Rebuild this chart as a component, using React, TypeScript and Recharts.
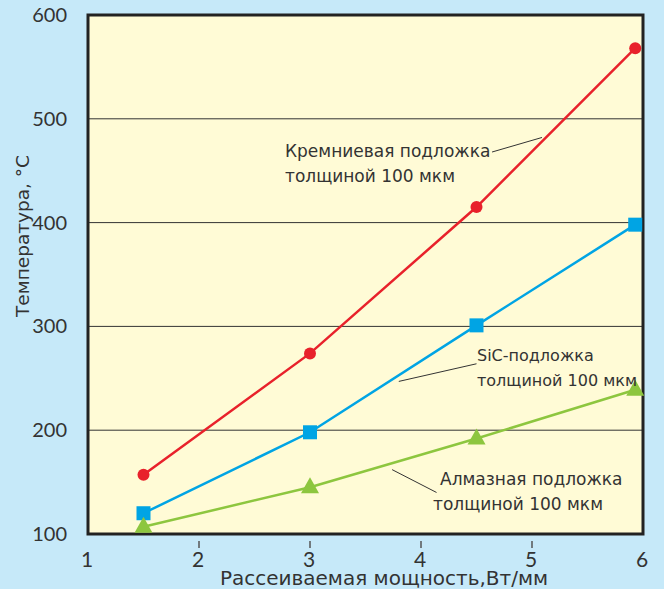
import React from 'react';
import { LineChart, Line, XAxis, YAxis, CartesianGrid, ReferenceArea, ReferenceLine } from 'recharts';

const xValues = [1.5, 3, 4.5, 5.93];
const siValues = [157, 274, 415, 568];
const sicValues = [120, 198, 301, 398];
const diamondValues = [107, 145, 192, 239];
const xTicks = [1, 2, 3, 4, 5, 6];
const yTicks = [100, 200, 300, 400, 500, 600];

const data = xValues.map((x, i) => ({ x, si: siValues[i], sic: sicValues[i], dia: diamondValues[i] }));

const RED = '#e8212b';
const BLUE = '#00a4e4';
const GREEN = '#8dc63f';
const FONT = '"DejaVu Sans", sans-serif';
const NUMFONT = 'Lato, sans-serif';
const TXT = '#333';

const annotations = [
  { lines: ['Кремниевая подложка', 'толщиной 100 мкм'], x: 285, x2: 285, y: 157, size: 17, lead: [4.64, 468, 5.09, 482] },
  { lines: ['SiC-подложка', 'толщиной 100 мкм'], x: 477, x2: 477, y: 361, size: 16, lead: [3.8, 247, 4.5, 264] },
  { lines: ['Алмазная подложка', 'толщиной 100 мкм'], x: 440, x2: 433, y: 485, size: 17, lead: [3.74, 162, 4.14, 140] },
];

const Square = (props: any) => {
  const { cx, cy } = props;
  if (cx == null || cy == null) return null;
  return <rect x={cx - 7} y={cy - 7} width={14} height={14} fill={BLUE} />;
};
const Triangle = (props: any) => {
  const { cx, cy } = props;
  if (cx == null || cy == null) return null;
  return <polygon points={`${cx},${cy - 10} ${cx + 9},${cy + 6} ${cx - 9},${cy + 6}`} fill={GREEN} />;
};

const XTick = (props: any) => {
  const { x, y, payload } = props;
  const v = payload.value;
  return (
    <g>
      {v > 1 && v < 6 && <line x1={x} x2={x} y1={y - 1} y2={y + 6} stroke="#555" strokeWidth={1.5} />}
      <text x={x - 1} y={y + 25} textAnchor="middle" fill={TXT} fontSize={21} fontFamily={NUMFONT}>{v}</text>
    </g>
  );
};
const YTick = (props: any) => {
  const { x, y, payload } = props;
  return (
    <text x={x - 13} y={y + 7} textAnchor="end" fill={TXT} fontSize={20} fontFamily={NUMFONT}>{payload.value}</text>
  );
};

export default function App() {
  return (
    <div style={{ position: 'absolute', left: 0, top: 0, width: 664, height: 589, background: '#c6e9f9' }}>
      <LineChart width={664} height={589} data={data} margin={{ top: 15, right: 21, left: 0, bottom: 0 }}>
        <CartesianGrid vertical={false} fill="#fffbd6" stroke="#333" strokeWidth={1} horizontalValues={yTicks} />
        <XAxis dataKey="x" type="number" domain={[1, 6]} ticks={xTicks} height={55} axisLine={false} tickLine={false} tick={<XTick />} interval={0} />
        <YAxis type="number" domain={[100, 600]} ticks={yTicks} width={88} axisLine={false} tickLine={false} tick={<YTick />} interval={0} />
        <ReferenceArea x1={1} x2={6} y1={100} y2={600} fill="none" stroke="#222" strokeWidth={3} ifOverflow="visible" />
        {annotations.map((a, i) => (
          <ReferenceLine key={i} segment={[{ x: a.lead[0], y: a.lead[1] }, { x: a.lead[2], y: a.lead[3] }]} stroke="#333" strokeWidth={1} ifOverflow="visible" />
        ))}
        <Line dataKey="si" stroke={RED} strokeWidth={2.5} isAnimationActive={false} dot={{ r: 6, fill: RED, stroke: 'none' }} />
        <Line dataKey="sic" stroke={BLUE} strokeWidth={2.5} isAnimationActive={false} dot={<Square />} />
        <Line dataKey="dia" stroke={GREEN} strokeWidth={2.5} isAnimationActive={false} dot={<Triangle />} />
      </LineChart>
      <svg width={664} height={589} style={{ position: 'absolute', left: 0, top: 0, pointerEvents: 'none' }}>
        {annotations.map((a, i) => (
          <g key={i}>
            <text x={a.x} y={a.y} fill={TXT} fontSize={a.size} fontFamily={FONT}>{a.lines[0]}</text>
            <text x={a.x2} y={a.y + 25} fill={TXT} fontSize={a.size} fontFamily={FONT}>{a.lines[1]}</text>
          </g>
        ))}
        <text x={384} y={585} textAnchor="middle" fill={TXT} fontSize={20} fontFamily={FONT}>Рассеиваемая мощность,Вт/мм</text>
        <text x={29} y={236} textAnchor="middle" fill={TXT} fontSize={18.5} fontFamily={FONT} transform="rotate(-90 29 236)">Температура, °С</text>
      </svg>
    </div>
  );
}
